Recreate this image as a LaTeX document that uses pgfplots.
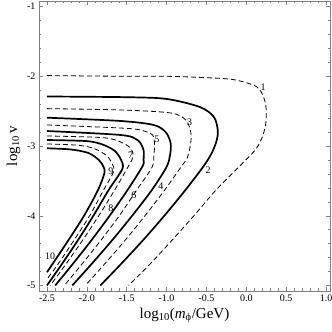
\documentclass[border=0pt]{standalone}
\usepackage{pgfplots}
\pgfplotsset{compat=1.18}
\usepackage{fontspec}
\setmainfont{Liberation Serif}

\begin{document}
\begin{tikzpicture}
\begin{axis}[
  scale only axis, width=291pt, height=290pt,
  xmin=-2.6, xmax=1.05, ymin=-5.08, ymax=-0.92,
  xtick={-2.5,-2,-1.5,-1,-0.5,0,0.5,1},
  xticklabels={-2.5,-2.0,-1.5,-1.0,-0.5,0.0,0.5,1.0},
  ytick={-5,-4,-3,-2,-1}, yticklabels={-5,-4,-3,-2,-1},
  minor x tick num=4, minor y tick num=4,
  axis line style={gray}, every tick/.style={gray},
  major tick length=4pt, minor tick length=2.5pt,
  tick label style={font=\fontsize{10}{12}\selectfont},
  xlabel={log\textsubscript{10}(\textit{m}\textsubscript{ϕ}/GeV)},
  ylabel={log\textsubscript{10}\,v},
  label style={font=\fontsize{15}{17}\selectfont},
  solid/.style={black, line width=1.7pt, smooth},
  dash/.style={black, line width=0.8pt, dash pattern=on 5pt off 3pt, smooth},
]
% 1
\addplot[dash] coordinates {(-2.5,-1.99) (-1.5,-2.0) (-1.0,-2.0) (-0.5,-2.02) (-0.15,-2.05) (0.13,-2.15) (0.22,-2.31) (0.25,-2.48) (0.245,-2.67) (0.205,-2.86) (0.13,-3.03) (0.02,-3.17) (-0.12,-3.33) (-0.38,-3.632) (-0.65,-3.991) (-0.93,-4.35) (-1.22,-4.709) (-1.477,-5.0)};
% 2
\addplot[solid] coordinates {(-2.5,-2.29) (-1.5,-2.30) (-1.0,-2.325) (-0.584,-2.44) (-0.408,-2.58) (-0.358,-2.77) (-0.37,-2.915) (-0.433,-3.10) (-0.534,-3.287) (-0.764,-3.632) (-1.021,-3.991) (-1.294,-4.35) (-1.585,-4.709) (-1.83,-5.0)};
% 3
\addplot[dash] coordinates {(-2.5,-2.464) (-1.578,-2.483) (-0.949,-2.526) (-0.76,-2.626) (-0.697,-2.80) (-0.697,-2.957) (-0.74,-3.17) (-0.81,-3.287) (-1.024,-3.632) (-1.264,-3.991) (-1.518,-4.35) (-1.79,-4.709) (-2.018,-5.0)};
% 4
\addplot[solid] coordinates {(-2.5,-2.594) (-1.578,-2.641) (-1.163,-2.698) (-1.012,-2.80) (-0.949,-2.957) (-0.955,-3.12) (-1.0,-3.30) (-1.185,-3.632) (-1.425,-3.991) (-1.681,-4.35) (-1.953,-4.709) (-2.182,-5.0)};
% 5
\addplot[dash] coordinates {(-2.5,-2.698) (-1.578,-2.742) (-1.326,-2.771) (-1.175,-2.843) (-1.15,-2.986) (-1.16,-3.12) (-1.18,-3.30) (-1.375,-3.632) (-1.587,-3.991) (-1.822,-4.35) (-2.072,-4.709) (-2.282,-5.0)};
% 6
\addplot[solid] coordinates {(-2.5,-2.785) (-1.578,-2.842) (-1.364,-2.914) (-1.289,-3.057) (-1.289,-3.20) (-1.30,-3.287) (-1.49,-3.632) (-1.708,-3.991) (-1.941,-4.35) (-2.188,-4.709) (-2.396,-5.0)};
% 7
\addplot[dash] coordinates {(-2.5,-2.856) (-1.8,-2.88) (-1.578,-2.942) (-1.452,-3.03) (-1.42,-3.15) (-1.477,-3.287) (-1.651,-3.632) (-1.845,-3.991) (-2.052,-4.35) (-2.272,-4.709) (-2.458,-5.0)};
% 8
\addplot[solid] coordinates {(-2.5,-2.914) (-2.0,-2.93) (-1.8,-2.98) (-1.65,-3.07) (-1.57,-3.2) (-1.555,-3.33) (-1.727,-3.632) (-1.913,-3.991) (-2.111,-4.35) (-2.322,-4.709) (-2.5,-5.0)};
% 9
\addplot[dash] coordinates {(-2.5,-2.971) (-2.1,-2.99) (-1.9,-3.04) (-1.75,-3.14) (-1.68,-3.26) (-1.665,-3.37) (-1.79,-3.632) (-1.96,-3.991) (-2.16,-4.35) (-2.37,-4.709) (-2.5,-4.91)};
% 10
\addplot[solid] coordinates {(-2.5,-3.033) (-2.2,-3.05) (-1.98,-3.1) (-1.85,-3.2) (-1.79,-3.3) (-1.78,-3.39) (-1.86,-3.632) (-2.03,-3.991) (-2.23,-4.35) (-2.44,-4.709) (-2.5,-4.81)};
\begin{scope}[font=\fontsize{10}{12}\selectfont]
\node at (axis cs:0.21,-2.15) {1};
\node at (axis cs:-0.48,-3.35) {2};
\node at (axis cs:-0.71,-2.66) {3};
\node at (axis cs:-1.07,-3.58) {4};
\node at (axis cs:-1.12,-2.91) {5};
\node at (axis cs:-1.41,-3.70) {6};
\node at (axis cs:-1.45,-3.13) {7};
\node at (axis cs:-1.70,-3.89) {8};
\node at (axis cs:-1.70,-3.36) {9};
\node at (axis cs:-2.46,-4.58) {10};
\end{scope}
\end{axis}
\pgfresetboundingbox
\path[use as bounding box] ([shift={(-39pt,-41pt)}]current axis.south west) rectangle ([shift={(2pt,1pt)}]current axis.north east);
\end{tikzpicture}
\end{document}
